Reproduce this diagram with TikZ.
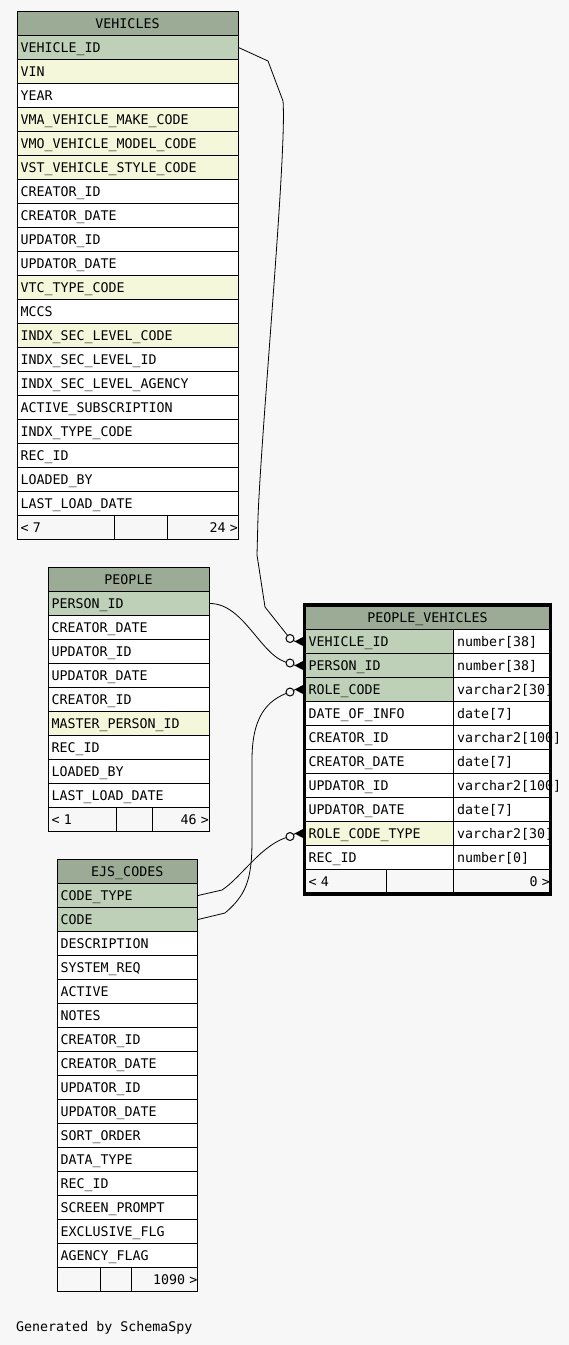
\documentclass[tikz,border=0pt]{standalone}
\usepackage{fontspec}
\newfontfamily\schemafont{DejaVu Sans Mono}
\usetikzlibrary{calc}

\definecolor{bgcol}{HTML}{F7F7F7}
\definecolor{headcol}{HTML}{9BAB96}
\definecolor{keycol}{HTML}{BED1B8}
\definecolor{idxcol}{HTML}{F4F7DA}

\begin{document}
\begin{tikzpicture}[x=1pt, y=-1pt,
    every node/.style={font=\schemafont\fontsize{13.3}{15}\selectfont},
    cell/.style={draw, line width=1pt, anchor=north west, inner sep=0pt,
      minimum height=24pt, text height=11pt, text depth=1.6pt,
      text width=#1, align=left},
    head/.style={cell=#1, fill=headcol, align=center},
    foot/.style={cell=#1, fill=bgcol},
    fk/.style={line width=0.8pt},
    optional/.style={draw, line width=1pt, fill=bgcol}]
    \fill[bgcol] (0,0) rectangle (569,1345);
    \useasboundingbox (0,0) rectangle (569,1345);

    % VEHICLES
    \node[head=221pt] (veh) at (16.5,11) {VEHICLES\hspace*{8pt}};
    \foreach \txt/\col [count=\i] in {VEHICLE\_ID/keycol, VIN/idxcol, YEAR/white,
        VMA\_VEHICLE\_MAKE\_CODE/idxcol, VMO\_VEHICLE\_MODEL\_CODE/idxcol,
        VST\_VEHICLE\_STYLE\_CODE/idxcol, CREATOR\_ID/white, CREATOR\_DATE/white,
        UPDATOR\_ID/white, UPDATOR\_DATE/white, VTC\_TYPE\_CODE/idxcol, MCCS/white,
        INDX\_SEC\_LEVEL\_CODE/idxcol, INDX\_SEC\_LEVEL\_ID/white,
        INDX\_SEC\_LEVEL\_AGENCY/white, ACTIVE\_SUBSCRIPTION/white,
        INDX\_TYPE\_CODE/white, REC\_ID/white, LOADED\_BY/white, LAST\_LOAD\_DATE/white} {
      \node[cell=221pt, fill=\col] (veh\i) at (16.5, 11+24*\i) {\hspace*{3.5pt}\mbox{\txt}};
    }
    \node[foot=97pt] (vehf1) at (16.5,515) {\hspace*{3.5pt}<\ 7};
    \node[foot=53pt] (vehf2) at (113.5,515) {};
    \node[foot=71pt, align=right] (vehf3) at (166.5,515) {24\ >\hspace*{3.5pt}};

    % PEOPLE
    \node[head=161pt] (ppl) at (47.5,567) {PEOPLE\hspace*{14pt}};
    \foreach \txt/\col [count=\i] in {PERSON\_ID/keycol, CREATOR\_DATE/white,
        UPDATOR\_ID/white, UPDATOR\_DATE/white, CREATOR\_ID/white,
        MASTER\_PERSON\_ID/idxcol, REC\_ID/white, LOADED\_BY/white, LAST\_LOAD\_DATE/white} {
      \node[cell=161pt, fill=\col] (ppl\i) at (47.5, 567+24*\i) {\hspace*{3.5pt}\mbox{\txt}};
    }
    \node[foot=68.5pt] (pplf1) at (47.5,807) {\hspace*{3.5pt}<\ 1};
    \node[foot=36pt] (pplf2) at (116,807) {};
    \node[foot=56.5pt, align=right] (pplf3) at (152,807) {46\ >\hspace*{3.5pt}};

    % EJS_CODES
    \node[head=140.5pt] (ejs) at (56.5,859) {EJS\_CODES\hspace*{16pt}};
    \foreach \txt/\col [count=\i] in {CODE\_TYPE/keycol, CODE/keycol, DESCRIPTION/white,
        SYSTEM\_REQ/white, ACTIVE/white, NOTES/white, CREATOR\_ID/white,
        CREATOR\_DATE/white, UPDATOR\_ID/white, UPDATOR\_DATE/white, SORT\_ORDER/white,
        DATA\_TYPE/white, REC\_ID/white, SCREEN\_PROMPT/white, EXCLUSIVE\_FLG/white,
        AGENCY\_FLAG/white} {
      \node[cell=140.5pt, fill=\col] (ejs\i) at (56.5, 859+24*\i) {\hspace*{3.5pt}\mbox{\txt}};
    }
    \node[foot=43.5pt] (ejsf1) at (56.5,1267) {};
    \node[foot=31pt] (ejsf2) at (100,1267) {};
    \node[foot=66pt, align=right] (ejsf3) at (131,1267) {1090\ >\hspace*{3.5pt}};

    % PEOPLE_VEHICLES
    \node[head=245pt] (pv) at (304.5,605) {PEOPLE\_VEHICLES\hspace*{18pt}};
    \foreach \txt/\col/\typ [count=\i] in {VEHICLE\_ID/keycol/number[38],
        PERSON\_ID/keycol/number[38], ROLE\_CODE/keycol/varchar2[30],
        DATE\_OF\_INFO/white/date[7], CREATOR\_ID/white/varchar2[100],
        CREATOR\_DATE/white/date[7], UPDATOR\_ID/white/varchar2[100],
        UPDATOR\_DATE/white/date[7], ROLE\_CODE\_TYPE/idxcol/varchar2[30],
        REC\_ID/white/number[0]} {
      \node[cell=148.5pt, fill=\col] (pv\i) at (304.5, 605+24*\i) {\hspace*{3.5pt}\mbox{\txt}};
      \node[cell=96.5pt, fill=white] (pvt\i) at (453, 605+24*\i) {\hspace*{3.5pt}\mbox{\typ}};
    }
    \node[foot=81.5pt] (pvf1) at (304.5,869) {\hspace*{3.5pt}<\ 4};
    \node[foot=67pt] (pvf2) at (386,869) {};
    \node[foot=96.5pt, align=right] (pvf3) at (453,869) {0\ >\hspace*{3.5pt}};
    \draw[line width=3.5pt] (pv.north west) rectangle (pvf3.south east);

    % circle ends
    \foreach \r/\dy in {pv1/3, pv2/2.5, pv3/-2.5, pv9/-3} {
      \coordinate (\r-o) at ([xshift=-14.5pt, yshift=\dy pt]\r.west);
    }

    % relations
    \draw[fk] (veh1.east) -- (268,61) -- (283,101)
      .. controls (287,150) and (262,420) .. (258,517) -- (257,555) -- (265,607) -- (pv1-o);
    \draw[fk] (ppl1.east) .. controls (245,603) and (262,660) .. (pv2-o);
    \draw[fk] (ejs2.east) -- (225,913) .. controls (246,895) and (252,880) .. (252,840)
      -- (252,760) .. controls (252,718) and (266,700) .. (pv3-o);
    \draw[fk] (ejs1.east) -- (222,890) .. controls (242,877) and (262,843) .. (pv9-o);

    \foreach \r in {pv1, pv2, pv3, pv9} {
      \draw[fk] (\r-o) -- ([xshift=-9pt]\r.west);
      \fill ([xshift=-10pt]\r.west) -- ([xshift=-1.5pt, yshift=4.5pt]\r.west)
        -- ([xshift=-1.5pt, yshift=-4.5pt]\r.west) -- cycle;
      \draw[optional] (\r-o) circle (4pt);
    }

    \node[anchor=base west, inner sep=0pt] (gen) at (16,1331.5) {Generated by SchemaSpy};
\end{tikzpicture}
\end{document}
